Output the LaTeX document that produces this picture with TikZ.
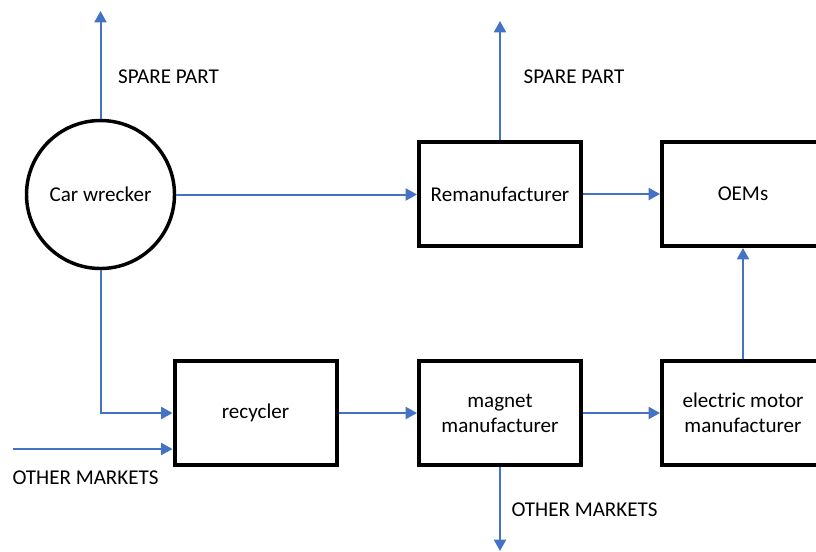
\documentclass[tikz,border=0pt]{standalone}
\usepackage{fontspec}
\setmainfont{Carlito}
\usetikzlibrary{arrows.meta}
\definecolor{flowblue}{HTML}{4472C4}
\tikzset{
  stagebox/.style={draw=black, line width=3pt, minimum width=121.5pt, minimum height=78pt,
    inner sep=0pt, align=center, font=\fontsize{15.8}{18.75}\selectfont},
  roundstage/.style={draw=black, circle, line width=2.6pt, minimum size=111pt, inner sep=0pt,
    font=\fontsize{15.8}{18.75}\selectfont},
  flow/.style={draw=flowblue, line width=1.5pt, -{Triangle[length=8.5pt,width=9pt]}},
  tag/.style={font=\fontsize{15.8}{18.75}\selectfont, inner sep=0pt}
}
\begin{document}
\begin{tikzpicture}[x=0.75pt, y=-0.75pt]
  \useasboundingbox (0,0) rectangle (816,551);
  \clip (0,0) rectangle (816,551);

  % stages of the chain
  \node[roundstage] (wreck) at (100.5,194.5) {Car wrecker};
  \node[stagebox] (reman) at (500,194) {Remanufacturer};
  \node[stagebox] (oem) at (743,194) {OEMs};
  \node[stagebox] (recyc) at (255.5,413) {recycler};
  \node[stagebox] (magnet) at (500,413) {magnet\\manufacturer};
  \node[stagebox] (motor) at (743,413) {electric motor\\manufacturer};

  % free ends of the outgoing and incoming flows
  \coordinate (spare1) at (100.5,11);
  \coordinate (spare2) at (500,21);
  \coordinate (othin) at (13,449);
  \coordinate (othout) at (500,551);

  % flows
  \draw[flow] (wreck.north) -- (spare1);
  \draw[flow] (reman.north) -- (spare2);
  \draw[flow] (wreck.east) -- (wreck.east -| reman.west);
  \draw[flow] (reman.east) -- (oem.west);
  \draw[flow] (wreck.south) |- (recyc.west);
  \draw[flow] (othin) -- (othin -| recyc.west);
  \draw[flow] (recyc.east) -- (magnet.west);
  \draw[flow] (magnet.east) -- (motor.west);
  \draw[flow] (magnet.south) -- (othout);
  \draw[flow] (motor.north) -- (oem.south);

  % flow labels
  \node[tag] (lspare1) at (168.5,77) {SPARE PART};
  \node[tag] (lspare2) at (574,77) {SPARE PART};
  \node[tag] (lother1) at (85.5,478) {OTHER MARKETS};
  \node[tag] (lother2) at (584.5,510) {OTHER MARKETS};
\end{tikzpicture}
\end{document}
